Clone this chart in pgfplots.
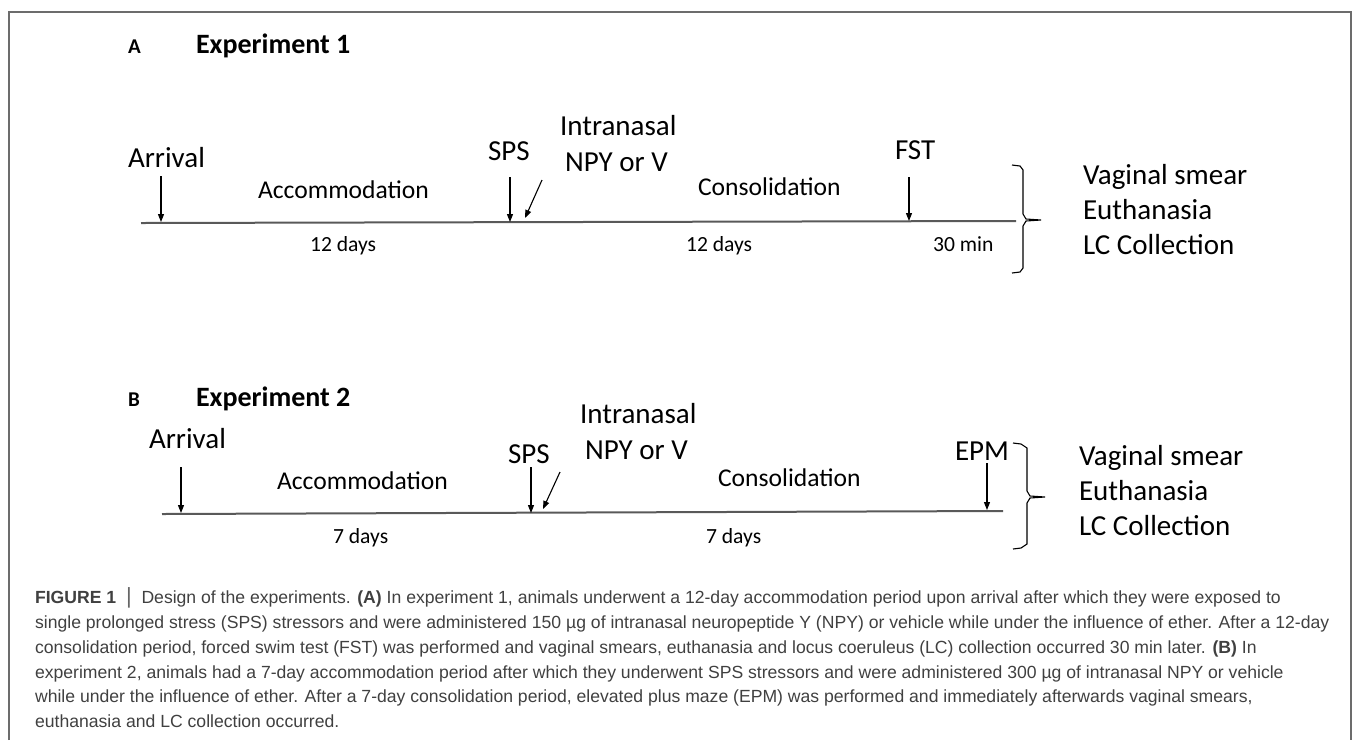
\documentclass[border=0pt]{standalone}
\usepackage{fontspec}
\setmainfont{Carlito}
\newfontfamily\capfont{Liberation Sans}
\usepackage{pgfplots}
\pgfplotsset{compat=1.18}
\usetikzlibrary{arrows.meta}
\newcommand{\fbig}{\fontsize{14.5}{17}\selectfont}
\newcommand{\fmid}{\fontsize{12.8}{15}\selectfont}
\newcommand{\fsm}{\fontsize{10.8}{13}\selectfont}
\newcommand{\fcap}{\capfont\fontsize{8.8}{11}\selectfont\color{black!75}}
\begin{document}
\begin{tikzpicture}
\begin{axis}[
  scale only axis, width=677.5pt, height=370pt,
  xmin=0, xmax=1355, ymin=0, ymax=740, y dir=reverse,
  hide axis, clip=false,
  every node/.style={inner sep=0pt, outer sep=0pt},
]
\addplot[draw=none] coordinates {(0,0) (1355,740)};
% frame
\addplot[gray!85!black, line width=1pt] coordinates {(9,740) (9,12) (1351,12) (1351,740)};
% ---------- Experiment 1 ----------
\addplot[gray!70!black, line width=1pt] coordinates {(141,223) (1016,221)};
\addplot[black, line width=0.55pt, -{Triangle[length=4pt,width=3pt]}] coordinates {(161,176) (161,222)};
\addplot[black, line width=0.55pt, -{Triangle[length=4pt,width=3pt]}] coordinates {(510,177) (510,222)};
\addplot[black, line width=0.55pt, -{Triangle[length=4pt,width=3pt]}] coordinates {(542,180) (525,218)};
\addplot[black, line width=0.55pt, -{Triangle[length=4pt,width=3pt]}] coordinates {(909,177) (909,221)};
\addplot[black, line width=0.55pt] coordinates {(1012,165) (1020,166) (1023,170) (1023,214) (1026,219) (1041,220) (1026,221) (1023,226) (1023,268) (1020,272) (1012,273)};
% ---------- Experiment 2 ----------
\addplot[gray!70!black, line width=1pt] coordinates {(162,514) (1003,511)};
\addplot[black, line width=0.55pt, -{Triangle[length=4pt,width=3pt]}] coordinates {(181,467) (181,513)};
\addplot[black, line width=0.55pt, -{Triangle[length=4pt,width=3pt]}] coordinates {(531,467) (531,513)};
\addplot[black, line width=0.55pt, -{Triangle[length=4pt,width=3pt]}] coordinates {(560,472) (543,509)};
\addplot[black, line width=0.55pt, -{Triangle[length=4pt,width=3pt]}] coordinates {(987,463) (987,510)};
\addplot[black, line width=0.55pt] coordinates {(1013,443) (1021,444) (1027,448) (1027,491) (1030,496) (1045,497) (1030,498) (1027,503) (1027,544) (1021,548) (1013,549)};
% ---------- texts A ----------
\node[anchor=base west] at (axis cs:121,53) {\fontsize{10.5}{12}\selectfont\bfseries A};
\node[anchor=base west] at (axis cs:189,53) {\fontsize{14}{17}\selectfont\bfseries Experiment 1};
\node[anchor=base west] at (axis cs:121,167) {\fbig Arrival};
\node[anchor=base west] at (axis cs:251,198) {\fmid Accommodation};
\node[anchor=base west] at (axis cs:481,160) {\fbig SPS};
\node[anchor=base west] at (axis cs:553,135) {\fbig Intranasal};
\node[anchor=base west] at (axis cs:558,171) {\fbig NPY or V};
\node[anchor=base west] at (axis cs:691,195) {\fmid Consolidation};
\node[anchor=base west] at (axis cs:888,159) {\fbig FST};
\node[anchor=base west] at (axis cs:303,251) {\fsm 12 days};
\node[anchor=base west] at (axis cs:679,251) {\fsm 12 days};
\node[anchor=base west] at (axis cs:926,251) {\fsm 30 min};
\node[anchor=base west] at (axis cs:1076,184) {\fbig Vaginal smear};
\node[anchor=base west] at (axis cs:1076,219) {\fbig Euthanasia};
\node[anchor=base west] at (axis cs:1076,254) {\fbig LC Collection};
% ---------- texts B ----------
\node[anchor=base west] at (axis cs:121,406) {\fontsize{10.5}{12}\selectfont\bfseries B};
\node[anchor=base west] at (axis cs:189,406) {\fontsize{14}{17}\selectfont\bfseries Experiment 2};
\node[anchor=base west] at (axis cs:142,448) {\fbig Arrival};
\node[anchor=base west] at (axis cs:270,489) {\fmid Accommodation};
\node[anchor=base west] at (axis cs:501,463) {\fbig SPS};
\node[anchor=base west] at (axis cs:573,423) {\fbig Intranasal};
\node[anchor=base west] at (axis cs:578,459) {\fbig NPY or V};
\node[anchor=base west] at (axis cs:711,486) {\fmid Consolidation};
\node[anchor=base west] at (axis cs:948,460) {\fbig EPM};
\node[anchor=base west] at (axis cs:326,543) {\fsm 7 days};
\node[anchor=base west] at (axis cs:699,543) {\fsm 7 days};
\node[anchor=base west] at (axis cs:1072,465) {\fbig Vaginal smear};
\node[anchor=base west] at (axis cs:1072,500) {\fbig Euthanasia};
\node[anchor=base west] at (axis cs:1072,535) {\fbig LC Collection};
% ---------- caption ----------
\node[anchor=base west] at (axis cs:28,603) {\fcap \textbf{FIGURE 1} \ {\color{black!60}\fontsize{11}{11}\selectfont\textbar} \ Design of the experiments. \textbf{(A)} In experiment 1, animals underwent a 12-day accommodation period upon arrival after which they were exposed to};
\node[anchor=base west] at (axis cs:28,628) {\fcap single prolonged stress (SPS) stressors and were administered 150 µg of intranasal neuropeptide Y (NPY) or vehicle while under the influence of ether. After a 12-day};
\node[anchor=base west] at (axis cs:28,653) {\fcap consolidation period, forced swim test (FST) was performed and vaginal smears, euthanasia and locus coeruleus (LC) collection occurred 30 min later. \textbf{(B)} In};
\node[anchor=base west] at (axis cs:28,678) {\fcap experiment 2, animals had a 7-day accommodation period after which they underwent SPS stressors and were administered 300 µg of intranasal NPY or vehicle};
\node[anchor=base west] at (axis cs:28,702) {\fcap while under the influence of ether. After a 7-day consolidation period, elevated plus maze (EPM) was performed and immediately afterwards vaginal smears,};
\node[anchor=base west] at (axis cs:28,727) {\fcap euthanasia and LC collection occurred.};
\end{axis}
\end{tikzpicture}
\end{document}
